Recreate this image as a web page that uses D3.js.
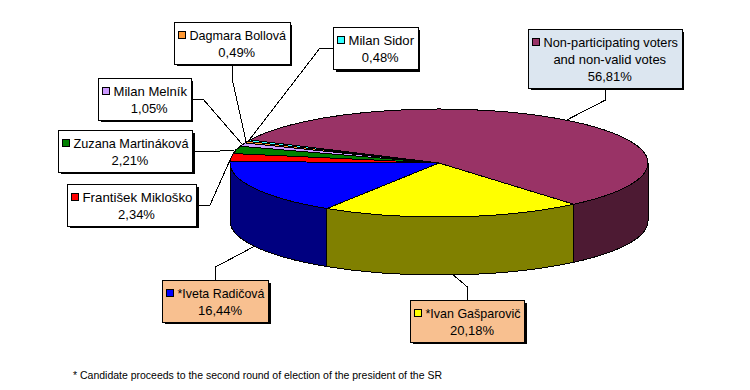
<!DOCTYPE html>
<html>
<head>
<meta charset="utf-8">
<script src="https://cdn.jsdelivr.net/npm/d3@7/dist/d3.min.js"></script>
<style>
  body { margin: 0; background: #fff; }
  text { font-family: "Liberation Sans", Arial, sans-serif; font-size: 13px; fill: #000; }
  path, rect { shape-rendering: crispEdges; }
</style>
</head>
<body>
<svg id="chart" width="750" height="390"></svg>
<script>
// Data
const candidates = ["Non-participating voters|and non-valid votes", "*Ivan Gašparovič", "*Iveta Radičová",
  "František Mikloško", "Zuzana Martináková", "Milan Melník", "Dagmara Bollová", "Milan Sidor"];
const shares = [56.81, 20.18, 16.44, 2.34, 2.21, 1.05, 0.49, 0.48];
const shareLabels = ["56,81%", "20,18%", "16,44%", "2,34%", "2,21%", "1,05%", "0,49%", "0,48%"];
const topColors = ["#993366", "#ffff00", "#0000ff", "#ff0000", "#008000", "#cc99ff", "#ff9933", "#33ffff"];
const sideColors = ["#4d1a33", "#808000", "#000080", "#800000", "#004000", "#664d80", "#804d1a", "#1a8080"];
const footnote = "* Candidate proceeds to the second round of election of the president of the SR";

// Label boxes: x0, y0, x1, y1, then the elbow of the leader line
const boxes = [
  [528.5, 29.5, 682, 88, 605.5, 100],
  [410.5, 300.5, 524.5, 342, 467.5, 287],
  [162.5, 280.5, 268.5, 322, 215.5, 267],
  [67.5, 184.5, 196.5, 226, 210, 205],
  [58.5, 130.5, 192.5, 172, 220, 151],
  [98.5, 78.5, 191, 120, 203, 99],
  [174.5, 22.5, 290, 64, 232, 78],
  [333.5, 27.5, 418, 69.5, 320, 48]
];
const fills = ["#dce6f0", "#f8c090", "#f8c090", "#fff", "#fff", "#fff", "#fff", "#fff"];

const cx = 439, cy = 163, rx = 209, ry = 54, depth = 58;
const svg = d3.select("#chart");

// pie starts where the big purple slice starts, d3 angles run clockwise from north
const start = -64.7 * Math.PI / 180;
const pieData = d3.pie().sort(null).startAngle(start).endAngle(start + 2 * Math.PI)(shares);
const px = a => cx + rx * Math.sin(a);
const py = a => cy - ry * Math.cos(a);

// side wall, only the front half of the ellipse (d3 angle 90deg to 270deg)
const side = svg.append("g");
pieData.forEach((d, i) => {
  const a0 = Math.max(d.startAngle, Math.PI / 2);
  const a1 = Math.min(d.endAngle, 3 * Math.PI / 2);
  if (a1 <= a0) return;
  side.append("path")
    .attr("d", `M${px(a0)},${py(a0)}A${rx},${ry} 0 0 1 ${px(a1)},${py(a1)}` +
      `L${px(a1)},${py(a1) + depth}A${rx},${ry} 0 0 0 ${px(a0)},${py(a0) + depth}Z`)
    .attr("fill", sideColors[i])
    .attr("stroke", "#000")
    .attr("stroke-width", 1);
});

// top face
const arc = d3.arc().innerRadius(0).outerRadius(rx);
svg.append("g")
  .attr("transform", `translate(${cx},${cy}) scale(1,${ry / rx})`)
  .selectAll("path")
  .data(pieData)
  .join("path")
  .attr("d", arc)
  .attr("fill", (d, i) => topColors[i])
  .attr("stroke", "#000")
  .attr("stroke-width", 1)
  .attr("vector-effect", "non-scaling-stroke");

// leader lines, end at the middle of the slice rim
const leaders = svg.append("g");
pieData.forEach((d, i) => {
  const b = boxes[i];
  const mid = (d.startAngle + d.endAngle) / 2;
  const onFront = mid > Math.PI / 2 && mid < 3 * Math.PI / 2 && i < 3;
  const ex = px(mid), ey = py(mid) + (onFront ? depth : 0);
  let sx = b[4], sy = b[5];
  // start point on the box edge
  if (b[5] > b[3]) sy = b[3] + 2;
  else if (b[5] < b[1]) sy = b[1];
  else sx = b[4] > b[2] ? b[2] + 2 : b[0];
  if (i === 6) { sx = 232; sy = b[3] + 2; }
  leaders.append("path")
    .attr("d", d3.line()([[sx, sy], [b[4], b[5]], [ex, ey]]))
    .attr("fill", "none")
    .attr("stroke", "#000")
    .attr("stroke-width", 1);
});

// label boxes
candidates.forEach((name, i) => {
  const b = boxes[i];
  const g = svg.append("g");
  const w = b[2] - b[0], h = b[3] - b[1];
  g.append("rect").attr("x", b[0] + 2).attr("y", b[1] + 2).attr("width", w).attr("height", h).attr("fill", "#000");
  g.append("rect").attr("x", b[0]).attr("y", b[1]).attr("width", w).attr("height", h)
    .attr("fill", fills[i]).attr("stroke", "#000").attr("stroke-width", 1);
  const lines = name.split("|").concat(shareLabels[i]);
  const mx = (b[0] + b[2]) / 2;
  lines.forEach((t, j) => {
    const txt = g.append("text").attr("y", b[1] + 17 + j * 17).text(t);
    if (j === 0) {
      // first line has the colour key in front of it
      const kx = b[0] + 4;
      g.append("rect").attr("x", kx).attr("y", b[1] + 8.5).attr("width", 7).attr("height", 7)
        .attr("fill", topColors[i]).attr("stroke", "#000");
      txt.attr("x", kx + 11).attr("textLength", w - 19).attr("lengthAdjust", "spacingAndGlyphs");
    } else {
      txt.attr("x", mx + 4.5).attr("text-anchor", "middle");
    }
  });
});

svg.append("text").attr("x", 73).attr("y", 379).style("font-size", "11px")
  .attr("textLength", 369).attr("lengthAdjust", "spacingAndGlyphs").text(footnote);
</script>
</body>
</html>
